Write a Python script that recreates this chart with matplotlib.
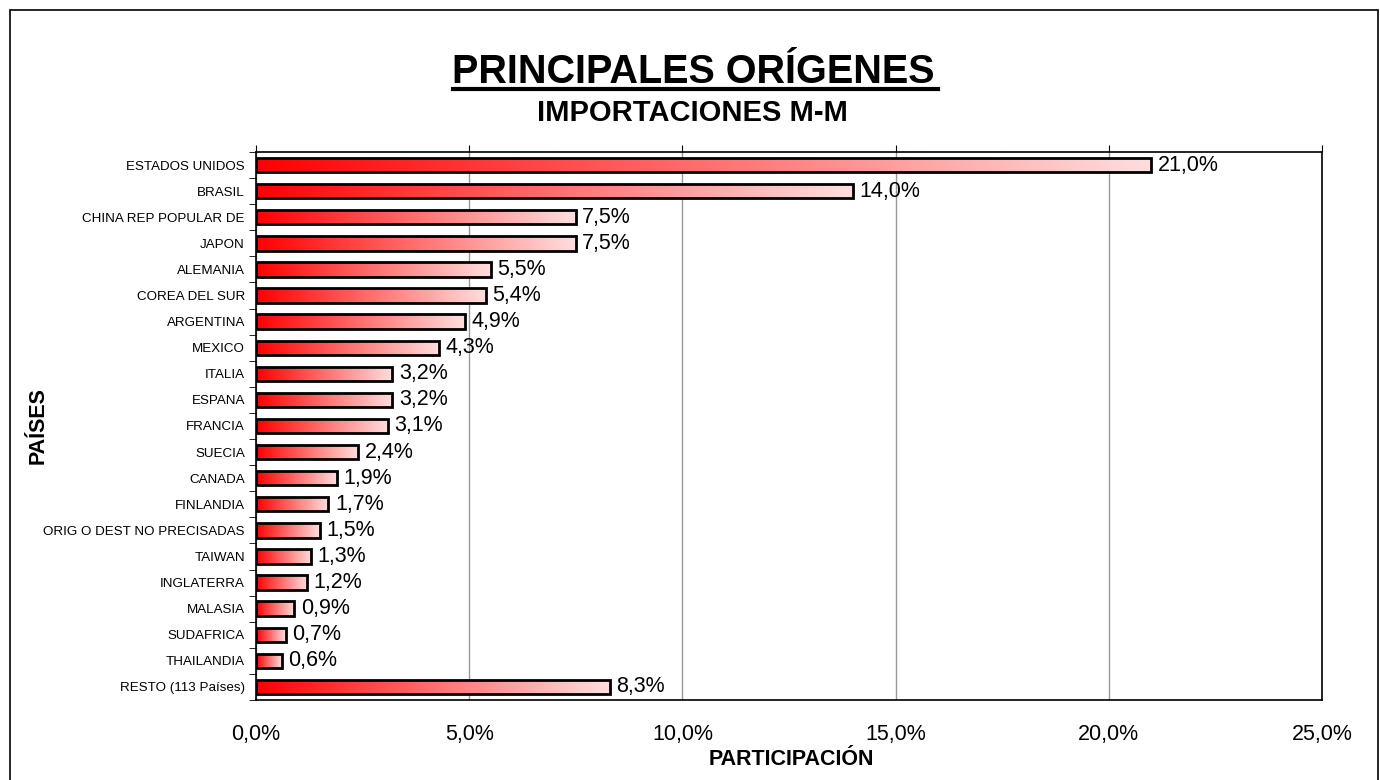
import matplotlib.pyplot as plt
from matplotlib.patches import Rectangle
from matplotlib.ticker import FuncFormatter
import numpy as np

plt.rcParams['font.family'] = ['Liberation Sans', 'DejaVu Sans']

paises = ["ESTADOS UNIDOS", "BRASIL", "CHINA REP POPULAR DE", "JAPON", "ALEMANIA",
          "COREA DEL SUR", "ARGENTINA", "MEXICO", "ITALIA", "ESPANA", "FRANCIA",
          "SUECIA", "CANADA", "FINLANDIA", "ORIG O DEST NO PRECISADAS", "TAIWAN",
          "INGLATERRA", "MALASIA", "SUDAFRICA", "THAILANDIA", "RESTO (113 Países)"]
participacion = [21.0, 14.0, 7.5, 7.5, 5.5, 5.4, 4.9, 4.3, 3.2, 3.2, 3.1,
                 2.4, 1.9, 1.7, 1.5, 1.3, 1.2, 0.9, 0.7, 0.6, 8.3]
x_ticks = [0, 5, 10, 15, 20, 25]


def pct(v, pos=None):
    return f"{v:.1f}%".replace('.', ',')


fig = plt.figure(figsize=(13.8, 7.8), dpi=100)
ax = fig.add_axes([0.1855, 0.1026, 0.7725, 0.7025])

# outer frame of the sheet
fig.patches.append(Rectangle((10 / 1380, -0.01), 1368 / 1380, 1 - 10 / 780 + 0.01,
                             transform=fig.transFigure, fill=False,
                             edgecolor='black', linewidth=1.2))

# red -> light pink gradient
grad = np.linspace(0, 1, 256).reshape(1, -1)
r = np.ones_like(grad)
g = 0.87 * grad
b = 0.87 * grad
img = np.dstack([r, g, b])

y = np.arange(len(paises))
bars = ax.barh(y, participacion, height=0.55, color='none', edgecolor='black',
               linewidth=2, zorder=3)
for bar, v in zip(bars, participacion):
    x0, y0 = bar.get_x(), bar.get_y()
    w, h = bar.get_width(), bar.get_height()
    im = ax.imshow(img, extent=[x0, x0 + w, y0 + h, y0], aspect='auto', zorder=2,
                   interpolation='bilinear')
    im.set_clip_path(bar)
    ax.text(x0 + w + 0.15, y0 + h / 2, pct(v), va='center', ha='left',
            fontsize=15.5, zorder=4)

ax.set_xlim(0, 25)
ax.set_ylim(len(paises) - 0.5, -0.5)
ax.set_xticks(x_ticks)
ax.xaxis.set_major_formatter(FuncFormatter(pct))
ax.tick_params(axis='x', which='both', bottom=False, top=True, labelbottom=True,
               direction='out', length=5, labelsize=15.5, pad=12)
ax.set_yticks(y)
ax.set_yticklabels(paises, fontsize=9.6)
ax.set_yticks(np.arange(len(paises) + 1) - 0.5, minor=True)
ax.tick_params(axis='y', which='major', length=0, pad=8)
ax.tick_params(axis='y', which='minor', length=5, direction='out')
ax.grid(axis='x', color='#999999', linewidth=1, zorder=1)
for s in ax.spines.values():
    s.set_linewidth(1.2)

ax.set_xlabel('PARTICIPACIÓN', fontsize=15.5, fontweight='bold', va='center')
ax.xaxis.set_label_coords(0.502, -0.108)
ax.set_ylabel('PAÍSES', fontsize=15.5, fontweight='bold', va='center')
ax.yaxis.set_label_coords(-0.2045, 0.5)

fig.text(0.502, 1 - 83 / 780, 'PRINCIPALES ORÍGENES', ha='center', va='baseline',
         fontsize=28.5, fontweight='bold')
fig.add_artist(plt.Line2D([453 / 1380, 938 / 1380], [1 - 89 / 780, 1 - 89 / 780],
                          color='black', linewidth=3, transform=fig.transFigure))
fig.text(0.502, 1 - 121 / 780, 'IMPORTACIONES M-M', ha='center', va='baseline',
         fontsize=21, fontweight='bold')

fig.savefig('out.png', dpi=100)
